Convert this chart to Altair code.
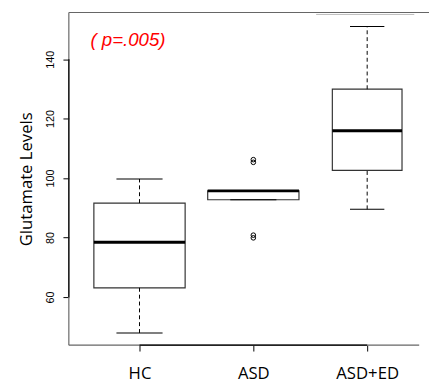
import altair as alt
import pandas as pd

groups = ["HC", "ASD", "ASD+ED"]
lower_whisker = [47.9, 92.7, 89.5]
q1 = [63.1, 92.7, 102.6]
median = [78.4, 95.7, 115.9]
q3 = [91.6, 95.7, 129.9]
upper_whisker = [99.7, 95.7, 151.0]
outlier_groups = ["ASD", "ASD", "ASD", "ASD"]
outlier_values = [106.2, 105.3, 80.8, 79.9]
y_ticks = [60, 80, 100, 120, 140]
p_label = "( p=.005)"

W, H = 367, 339

df = pd.DataFrame({"group": groups, "lo": lower_whisker, "q1": q1, "med": median,
                   "q3": q3, "hi": upper_whisker})
out = pd.DataFrame({"group": outlier_groups, "val": outlier_values})
one = pd.DataFrame({"a": [0]})

x_scale = alt.Scale(type="point", domain=groups, range=[72, 304], padding=0)
y_scale = alt.Scale(domain=[43.8, 155.7], nice=False, zero=False)

x_axis = alt.Axis(title=None, domain=False, ticks=True, tickSize=6, tickColor="black",
                  labelFont="Open Sans", labelFontSize=17, labelColor="black", labelAngle=0,
                  labelPadding=28, labelBaseline="alphabetic", grid=False)
y_axis = alt.Axis(values=y_ticks, title="Glutamate Levels", titleFont="Open Sans",
                  titleFontSize=17, titleFontWeight="normal", titleColor="black",
                  titleAngle=270, titleX=-43, titleY=H / 2, titleAlign="center",
                  titleBaseline="middle", labelFont="Liberation Sans", labelFontSize=11,
                  labelColor="black", labelAngle=270, labelAlign="center",
                  labelBaseline="bottom", labelPadding=8, tickSize=6, tickColor="black",
                  domain=False, grid=False)

X = alt.X("group:N", scale=x_scale, sort=groups, axis=x_axis)


def Yf(field):
    return alt.Y(field, type="quantitative", scale=y_scale, axis=y_axis)


box_w = alt.when(alt.datum.group == "ASD+ED").then(alt.value(71)).otherwise(alt.value(93))
cap_w = alt.when(alt.datum.group == "ASD+ED").then(alt.value(35)).otherwise(alt.value(47))

base = alt.Chart(df)

whisk_lo = base.mark_rule(color="black", strokeDash=[4, 3], strokeWidth=1).encode(
    x=X, y=Yf("lo"), y2="q1:Q")
whisk_hi = base.mark_rule(color="black", strokeDash=[4, 3], strokeWidth=1).encode(
    x=X, y=Yf("q3"), y2="hi:Q")
cap_lo = base.mark_tick(color="black", thickness=1, opacity=1).encode(
    x=X, y=Yf("lo"), size=cap_w)
cap_hi = base.mark_tick(color="black", thickness=1, opacity=1).encode(
    x=X, y=Yf("hi"), size=cap_w)
box = base.mark_bar(fill="white", stroke="#333333", strokeWidth=1.2).encode(
    x=X, y=Yf("q1"), y2="q3:Q", size=box_w)
med = base.mark_tick(color="black", thickness=3, opacity=1).encode(
    x=X, y=Yf("med"), size=box_w)
pts = alt.Chart(out).mark_point(shape="circle", filled=False, size=22, color="black",
                                strokeWidth=1, opacity=1).encode(
    x=X, y=Yf("val"))

frame_c = "#666666"
top = alt.Chart(one).mark_rule(color=frame_c, strokeWidth=1.2).encode(
    x=alt.value(0), x2=alt.value(W), y=alt.value(0))
left = alt.Chart(one).mark_rule(color=frame_c, strokeWidth=1.2).encode(
    x=alt.value(0), y=alt.value(0), y2=alt.value(H))
bottom = alt.Chart(one).mark_rule(color=frame_c, strokeWidth=1.2).encode(
    x=alt.value(0), x2=alt.value(357), y=alt.value(H))
yaxis_line = alt.Chart(one).mark_rule(color="black", strokeWidth=1.2).encode(
    x=alt.value(0), y=alt.Y(datum=60, type="quantitative", scale=y_scale, axis=y_axis),
    y2=alt.datum(140))
xaxis_line = alt.Chart(one).mark_rule(color="black", strokeWidth=1.2).encode(
    x=alt.X(datum="HC", type="nominal", scale=x_scale, axis=x_axis), x2=alt.datum("ASD+ED"),
    y=alt.value(H))
artifact = alt.Chart(one).mark_rule(color="#bbbbbb", strokeWidth=1).encode(
    x=alt.value(252), x2=alt.value(352), y=alt.value(2))

ptext = alt.Chart(one).mark_text(text=p_label, font="Liberation Sans", fontStyle="italic",
                                 fontSize=19, color="#ff0000", align="left",
                                 baseline="middle").encode(
    x=alt.value(22), y=alt.Y(datum=146.3, type="quantitative", scale=y_scale, axis=y_axis))

chart = alt.layer(
    box, whisk_lo, whisk_hi, cap_lo, cap_hi, med, pts,
    top, left, bottom, yaxis_line, xaxis_line, artifact, ptext
).properties(
    width=W, height=H,
    padding={"left": 62, "top": 1, "right": 0, "bottom": 36},
    autosize=alt.AutoSizeParams(type="none"),
).configure_view(stroke=None)

chart.save("out.html", embed_options={"renderer": "svg", "actions": False})
